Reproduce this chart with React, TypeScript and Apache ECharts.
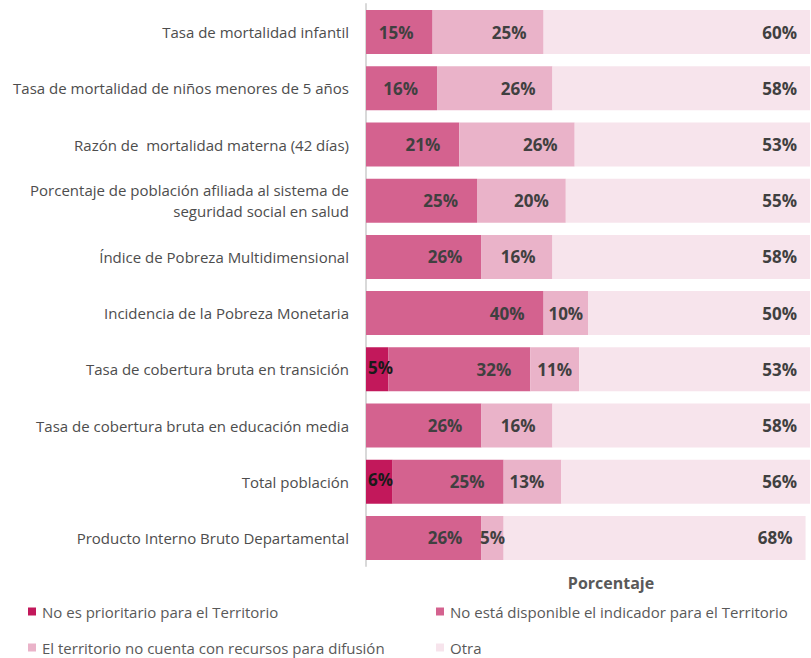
import React, { useEffect, useRef } from "react";
import * as echarts from "echarts";

const categories = [
  "Tasa de mortalidad infantil",
  "Tasa de mortalidad de niños menores de 5 años",
  "Razón de  mortalidad materna (42 días)",
  "Porcentaje de población afiliada al sistema de\nseguridad social en salud",
  "Índice de Pobreza Multidimensional",
  "Incidencia de la Pobreza Monetaria",
  "Tasa de cobertura bruta en transición",
  "Tasa de cobertura bruta en educación media",
  "Total población",
  "Producto Interno Bruto Departamental",
];

const seriesNames = [
  "No es prioritario para el Territorio",
  "No está disponible el indicador para el Territorio",
  "El territorio no cuenta con recursos para difusión",
  "Otra",
];

const noPrioritario = [0, 0, 0, 0, 0, 0, 5, 0, 6, 0];
const noDisponible = [15, 16, 21, 25, 26, 40, 32, 26, 25, 26];
const sinRecursos = [25, 26, 26, 20, 16, 10, 11, 16, 13, 5];
const otra = [60, 58, 53, 55, 58, 50, 53, 58, 56, 68];

const colors = ["#C2185B", "#D4628F", "#EAB3C9", "#F7E4EC"];

export default function App() {
  const ref = useRef<HTMLDivElement>(null);
  useEffect(() => {
    if (!ref.current) return;
    const chart = echarts.init(ref.current, undefined, { renderer: "svg" });
    const font = "'Open Sans', 'Noto Sans', sans-serif";
    const dataSets = [noPrioritario, noDisponible, sinRecursos, otra];
    const distances = [2, 19, 17, 13];
    const labelFmt = (p: any) => (p.value > 0 ? p.value + "%" : "");
    const series = dataSets.map((d, i) => ({
      name: seriesNames[i],
      type: "bar",
      stack: "total",
      barWidth: 44,
      data: d.map((v) =>
        i > 0 && v <= 11 ? { value: v, label: { position: "inside" } } : v
      ),
      itemStyle: { color: colors[i] },
      label: {
        show: true,
        position: i === 0 ? "insideLeft" : "insideRight",
        distance: distances[i],
        offset: i === 0 ? [0, -2] : [0, 0],
        formatter: labelFmt,
        color: i === 0 ? "#1a1a1a" : "#404040",
        fontWeight: "bold",
        fontSize: 17,
        fontFamily: font,
      },
      emphasis: { disabled: true },
    }));
    const legendPos = [
      { left: 23, top: 599 },
      { left: 431, top: 599 },
      { left: 23, top: 635 },
      { left: 431, top: 635 },
    ];
    chart.setOption({
      animation: false,
      textStyle: { fontFamily: font },
      grid: { left: 366, right: 1, top: 4, bottom: 92, containLabel: false },
      xAxis: {
        type: "value",
        min: 0,
        max: 100,
        axisLabel: { show: false },
        axisLine: { show: false },
        axisTick: { show: false },
        splitLine: { show: false },
        name: "Porcentaje",
        nameLocation: "middle",
        nameGap: 9,
        nameTextStyle: {
          fontWeight: "bold",
          fontSize: 16,
          color: "#595959",
          fontFamily: font,
          padding: [0, 0, 0, 46],
        },
      },
      yAxis: {
        type: "category",
        inverse: true,
        data: categories,
        axisLine: { show: true, lineStyle: { color: "#D9D9D9", width: 2 } },
        axisTick: { show: false },
        axisLabel: {
          color: "#4d4d4d",
          fontSize: 15,
          margin: 17,
          lineHeight: 21,
          fontFamily: font,
        },
      },
      legend: seriesNames.map((n, i) => ({
        data: [n],
        ...legendPos[i],
        icon: "rect",
        itemWidth: 8,
        itemHeight: 8,
        textStyle: { color: "#595959", fontSize: 15, fontFamily: font, padding: [0, 0, 0, 1] },
        selectedMode: false,
      })),
      series,
    });
    return () => chart.dispose();
  }, []);
  return (
    <div
      ref={ref}
      style={{ position: "fixed", left: 0, top: 0, width: 811, height: 658, background: "#fff" }}
    />
  );
}
